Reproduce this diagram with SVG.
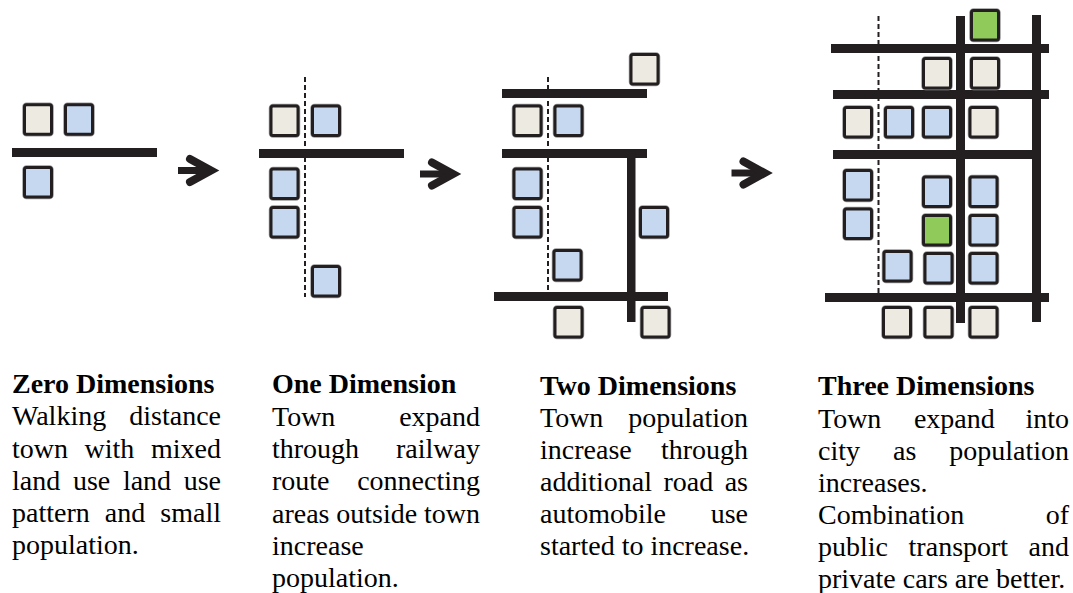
<svg xmlns="http://www.w3.org/2000/svg" xmlns:xlink="http://www.w3.org/1999/xlink" width="1073" height="593" viewBox="0 0 1073 593">
  <style>
    .road { fill: #231f20; }
    .rail { stroke: #231f20; stroke-width: 2; stroke-dasharray: 5 3; fill: none; }
    .lot { stroke: #231f20; stroke-width: 3; }
    .halo { fill: none; stroke: #9b9b9b; stroke-width: 4.5; }
    .beige { fill: #edebe1; }
    .blue { fill: #c5d8ef; }
    .green { fill: #8fca5a; }
    .shaft { stroke: #231f20; stroke-width: 7; fill: none; }
    .head { stroke: #231f20; stroke-width: 8; fill: none; stroke-linecap: round; stroke-linejoin: miter; stroke-miterlimit: 4; }
    text { font-family: "Liberation Serif", "Times New Roman", serif; font-size: 28px; fill: #000; }
    .title { font-weight: bold; }
    .end { text-anchor: end; }
  </style>
  <defs>
    <!-- one building lot: grey fringe under a dark outline -->
    <rect id="lot-halo" class="halo" x="0" y="0" width="27" height="29.5" rx="2"/>
    <rect id="lot" class="lot" x="0" y="0" width="27" height="29.5" rx="2"/>
    <g id="arrow">
      <path class="shaft" d="M178 170.5 H207"/>
      <path class="head" d="M190 159 L211 170.5 L190 182"/>
    </g>
  </defs>
  <rect width="1073" height="593" fill="#fff"/>

  <!-- Zero dimensions: a single road with a few lots -->
  <g id="zero-dimensions">
    <rect class="road" x="12" y="148" width="145" height="9"/>
    <g transform="translate(24.5 104.8)"><use xlink:href="#lot-halo"/><use xlink:href="#lot" class="beige"/></g>
    <g transform="translate(65.5 104.8)"><use xlink:href="#lot-halo"/><use xlink:href="#lot" class="blue"/></g>
    <g transform="translate(24.5 167.5)"><use xlink:href="#lot-halo"/><use xlink:href="#lot" class="blue"/></g>
  </g>

  <!-- One dimension: the railway line is added -->
  <g id="one-dimension">
    <line class="rail" x1="305" y1="77" x2="305" y2="297"/>
    <rect class="road" x="259" y="149" width="145" height="9"/>
    <g transform="translate(271 106)"><use xlink:href="#lot-halo"/><use xlink:href="#lot" class="beige"/></g>
    <g transform="translate(312.5 106)"><use xlink:href="#lot-halo"/><use xlink:href="#lot" class="blue"/></g>
    <g transform="translate(271 169)"><use xlink:href="#lot-halo"/><use xlink:href="#lot" class="blue"/></g>
    <g transform="translate(271 207.5)"><use xlink:href="#lot-halo"/><use xlink:href="#lot" class="blue"/></g>
    <g transform="translate(312.5 266.5)"><use xlink:href="#lot-halo"/><use xlink:href="#lot" class="blue"/></g>
  </g>

  <!-- Two dimensions: more roads around the railway -->
  <g id="two-dimensions">
    <line class="rail" x1="548" y1="77" x2="548" y2="292"/>
    <rect class="road" x="502" y="89" width="145" height="9"/>
    <rect class="road" x="502" y="149" width="145" height="9"/>
    <rect class="road" x="627" y="149" width="8.5" height="173"/>
    <rect class="road" x="494" y="292" width="174" height="9"/>
    <g transform="translate(631 54.5)"><use xlink:href="#lot-halo"/><use xlink:href="#lot" class="beige"/></g>
    <g transform="translate(514 106)"><use xlink:href="#lot-halo"/><use xlink:href="#lot" class="beige"/></g>
    <g transform="translate(555 106)"><use xlink:href="#lot-halo"/><use xlink:href="#lot" class="blue"/></g>
    <g transform="translate(514 169)"><use xlink:href="#lot-halo"/><use xlink:href="#lot" class="blue"/></g>
    <g transform="translate(514 207.5)"><use xlink:href="#lot-halo"/><use xlink:href="#lot" class="blue"/></g>
    <g transform="translate(640.5 207.5)"><use xlink:href="#lot-halo"/><use xlink:href="#lot" class="blue"/></g>
    <g transform="translate(554 250.5)"><use xlink:href="#lot-halo"/><use xlink:href="#lot" class="blue"/></g>
    <g transform="translate(555 307.5)"><use xlink:href="#lot-halo"/><use xlink:href="#lot" class="beige"/></g>
    <g transform="translate(642 307.5)"><use xlink:href="#lot-halo"/><use xlink:href="#lot" class="beige"/></g>
  </g>

  <!-- Three dimensions: a road grid -->
  <g id="three-dimensions">
    <line class="rail" x1="878.5" y1="16" x2="878.5" y2="293"/>
    <rect class="road" x="956" y="16" width="9" height="307"/>
    <rect class="road" x="1032" y="15" width="9" height="307"/>
    <rect class="road" x="831" y="44" width="218" height="9"/>
    <rect class="road" x="833" y="90" width="216" height="9"/>
    <rect class="road" x="833" y="150" width="208" height="9"/>
    <rect class="road" x="825" y="293" width="224" height="9"/>
    <g transform="translate(971.5 10.5)"><use xlink:href="#lot-halo"/><use xlink:href="#lot" class="green"/></g>
    <g transform="translate(923.5 58.5)"><use xlink:href="#lot-halo"/><use xlink:href="#lot" class="beige"/></g>
    <g transform="translate(971.5 58.5)"><use xlink:href="#lot-halo"/><use xlink:href="#lot" class="beige"/></g>
    <g transform="translate(844.5 107.5)"><use xlink:href="#lot-halo"/><use xlink:href="#lot" class="beige"/></g>
    <g transform="translate(885.5 107.5)"><use xlink:href="#lot-halo"/><use xlink:href="#lot" class="blue"/></g>
    <g transform="translate(923.5 107.5)"><use xlink:href="#lot-halo"/><use xlink:href="#lot" class="blue"/></g>
    <g transform="translate(970 107.5)"><use xlink:href="#lot-halo"/><use xlink:href="#lot" class="beige"/></g>
    <g transform="translate(844.5 170.5)"><use xlink:href="#lot-halo"/><use xlink:href="#lot" class="blue"/></g>
    <g transform="translate(844.5 209)"><use xlink:href="#lot-halo"/><use xlink:href="#lot" class="blue"/></g>
    <g transform="translate(923.5 177)"><use xlink:href="#lot-halo"/><use xlink:href="#lot" class="blue"/></g>
    <g transform="translate(970 177)"><use xlink:href="#lot-halo"/><use xlink:href="#lot" class="blue"/></g>
    <g transform="translate(923.5 215.5)"><use xlink:href="#lot-halo"/><use xlink:href="#lot" class="green"/></g>
    <g transform="translate(970 215.5)"><use xlink:href="#lot-halo"/><use xlink:href="#lot" class="blue"/></g>
    <g transform="translate(884 251.5)"><use xlink:href="#lot-halo"/><use xlink:href="#lot" class="blue"/></g>
    <g transform="translate(925 253.5)"><use xlink:href="#lot-halo"/><use xlink:href="#lot" class="blue"/></g>
    <g transform="translate(970 253.5)"><use xlink:href="#lot-halo"/><use xlink:href="#lot" class="blue"/></g>
    <g transform="translate(883.5 307.5)"><use xlink:href="#lot-halo"/><use xlink:href="#lot" class="beige"/></g>
    <g transform="translate(925 307.5)"><use xlink:href="#lot-halo"/><use xlink:href="#lot" class="beige"/></g>
    <g transform="translate(970 307.5)"><use xlink:href="#lot-halo"/><use xlink:href="#lot" class="beige"/></g>
  </g>

  <!-- progression arrows between stages -->
  <g id="connectors">
    <use xlink:href="#arrow"/>
    <use xlink:href="#arrow" transform="translate(242 3.5)"/>
    <use xlink:href="#arrow" transform="translate(553.5 2.5)"/>
  </g>

  <!-- captions, justified by hand -->
  <g id="caption-zero">
    <text class="title" x="12" y="393">Zero Dimensions</text>
    <text x="12" y="425">Walking</text><text class="end" x="221" y="425">distance</text>
    <text x="12" y="457.5">town</text><text x="84.6" y="457.5">with</text><text class="end" x="221" y="457.5">mixed</text>
    <text x="12" y="489.5">land</text><text x="72.9" y="489.5">use</text><text x="122.9" y="489.5">land</text><text class="end" x="221" y="489.5">use</text>
    <text x="12" y="521.5">pattern</text><text x="104.8" y="521.5">and</text><text class="end" x="221" y="521.5">small</text>
    <text x="12" y="553.5">population.</text>
  </g>
  <g id="caption-one">
    <text class="title" x="272" y="393">One Dimension</text>
    <text x="272" y="426">Town</text><text class="end" x="480" y="426">expand</text>
    <text x="272" y="458">through</text><text class="end" x="480" y="458">railway</text>
    <text x="272" y="490">route</text><text class="end" x="480" y="490">connecting</text>
    <text x="272" y="522.5">areas</text><text x="336.3" y="522.5">outside</text><text class="end" x="480" y="522.5">town</text>
    <text x="272" y="554.5">increase</text>
    <text x="272" y="586.5">population.</text>
  </g>
  <g id="caption-two">
    <text class="title" x="540" y="395">Two Dimensions</text>
    <text x="540" y="427">Town</text><text class="end" x="748" y="427">population</text>
    <text x="540" y="459">increase</text><text class="end" x="748" y="459">through</text>
    <text x="540" y="491">additional</text><text x="663.5" y="491">road</text><text class="end" x="748" y="491">as</text>
    <text x="540" y="523">automobile</text><text class="end" x="748" y="523">use</text>
    <text x="540" y="555">started to increase.</text>
  </g>
  <g id="caption-three">
    <text class="title" x="818" y="395">Three Dimensions</text>
    <text x="818" y="428">Town</text><text x="913.9" y="428">expand</text><text class="end" x="1069" y="428">into</text>
    <text x="818" y="460">city</text><text x="893" y="460">as</text><text class="end" x="1069" y="460">population</text>
    <text x="818" y="492">increases.</text>
    <text x="818" y="524">Combination</text><text class="end" x="1069" y="524">of</text>
    <text x="818" y="556">public</text><text x="908.6" y="556">transport</text><text class="end" x="1069" y="556">and</text>
    <text x="818" y="588">private cars are better.</text>
  </g>
</svg>
